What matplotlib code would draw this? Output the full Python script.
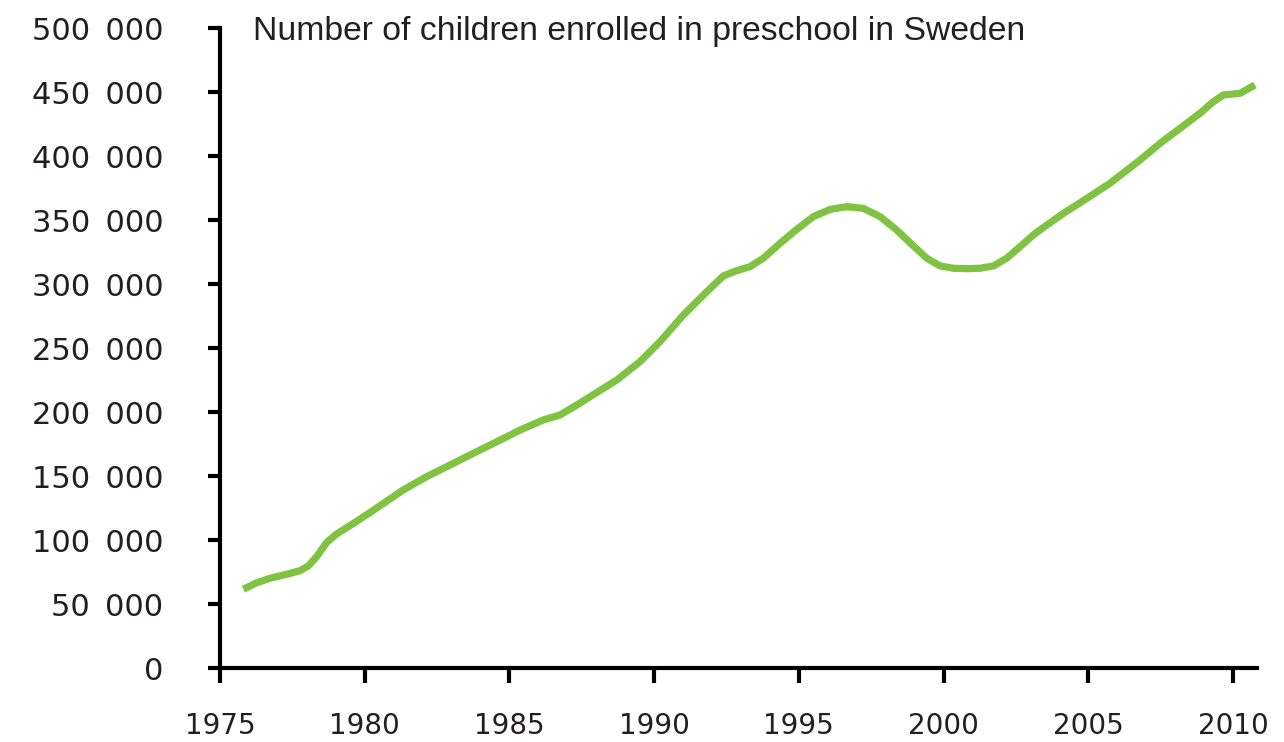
import matplotlib
matplotlib.use("Agg")
import matplotlib.pyplot as plt
from matplotlib.ticker import FixedLocator, FuncFormatter

title = "Number of children enrolled in preschool in Sweden"

years = [1975.81, 1976.27, 1976.73, 1977.30, 1977.76, 1978.05, 1978.34, 1978.69,
         1979.03, 1979.61, 1980.18, 1981.33, 1982.14, 1982.95, 1983.75, 1984.68,
         1985.37, 1986.17, 1986.75, 1987.33, 1988.71, 1989.51, 1990.20, 1991.01,
         1991.82, 1992.39, 1992.85, 1993.31, 1993.77, 1994.35, 1994.93, 1995.50,
         1996.08, 1996.65, 1997.23, 1997.81, 1998.38, 1998.96, 1999.42, 1999.88,
         2000.34, 2000.80, 2001.26, 2001.72, 2002.18, 2002.64, 2003.10, 2003.57,
         2004.14, 2004.72, 2005.75, 2006.79, 2007.48, 2008.17, 2008.86, 2009.32,
         2009.67, 2010.25, 2010.76]
children = [61500, 66600, 70100, 73200, 76000, 79700, 87000, 98200,
            104700, 113000, 121400, 139100, 149500, 158600, 167700, 178100,
            185900, 193800, 197700, 205500, 225000, 239300, 254900, 275800,
            294000, 306300, 310400, 313500, 320100, 331800, 342700, 352600,
            358300, 360400, 359100, 352600, 342200, 329700, 320100, 314100,
            312300, 312000, 312300, 314100, 320100, 329100, 338300, 346100,
            355200, 363500, 378700, 396900, 409900, 421600, 433400, 442400,
            447700, 449000, 455500]

x_ticks = [1975, 1980, 1985, 1990, 1995, 2000, 2005, 2010]
y_ticks = [0, 50000, 100000, 150000, 200000, 250000, 300000, 350000, 400000, 450000, 500000]
y_long = [0, 100000, 200000, 300000, 400000, 500000]

W, H = 1284, 742
fig = plt.figure(figsize=(W / 100, H / 100), dpi=100)
ax = fig.add_axes([220 / W, 74 / H, 1037 / W, 640 / H])

ax.plot(years, children, color="#80C342", lw=5.2, solid_capstyle="butt",
        solid_joinstyle="round", clip_on=False, zorder=3)

ax.set_xlim(1975, 2010.83)
ax.set_ylim(0, 500000)

for s in ["top", "right"]:
    ax.spines[s].set_visible(False)
for s in ["left", "bottom"]:
    ax.spines[s].set_linewidth(3)
    ax.spines[s].set_color("black")

tick_family = "DejaVu Sans"
tick_color = "#231F20"

ax.xaxis.set_major_locator(FixedLocator(x_ticks))
ax.xaxis.set_major_formatter(FuncFormatter(lambda v, p: f"{int(v)}"))
ax.tick_params(axis="x", which="major", length=11, width=3, pad=21,
               direction="out", colors="black")

ax.yaxis.set_major_locator(FixedLocator(y_ticks))
ax.yaxis.set_major_formatter(FuncFormatter(lambda v, p: f"{int(v):,}".replace(",", "\u2002")))
ax.yaxis.set_minor_locator(FixedLocator(y_long))
ax.tick_params(axis="y", which="major", length=8.6, width=3, pad=32,
               direction="out", colors="black")
ax.tick_params(axis="y", which="minor", length=14.4, width=3, direction="out", colors="black")

for lab in ax.get_xticklabels():
    lab.set_fontfamily(tick_family)
    lab.set_fontsize(20)
    lab.set_color(tick_color)
for lab in ax.get_yticklabels():
    lab.set_fontfamily(tick_family)
    lab.set_fontsize(22)
    lab.set_color(tick_color)

ax.text(253 / W, 1 - 40 / H, title, transform=fig.transFigure, ha="left",
        va="baseline", fontsize=24.3, family="Liberation Sans", color="#231F20")

fig.savefig("out.png", dpi=100)
